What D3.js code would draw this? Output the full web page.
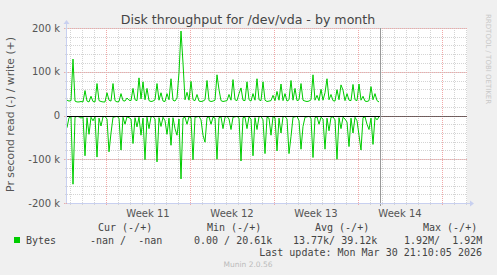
<!DOCTYPE html>
<html>
<head>
<meta charset="utf-8">
<script src="https://cdn.jsdelivr.net/npm/d3@7"></script>
<style>
  body { margin: 0; background: #f0f0f0; }
  text { font-family: "DejaVu Sans", sans-serif; }
  .mono { font-family: "DejaVu Sans Mono", monospace; white-space: pre; }
</style>
</head>
<body>
<div id="chart"></div>
<script>
// samples every 4 hours, values in k (bytes per second)
var startTime = Date.UTC(2026, 2, 5, 18);
var stepHours = 4;

var writeValues = [35,33,34,129,33,31,31,32,31,57,33,31,44,32,31,73,34,32,31,31,
  52,35,33,73,34,31,32,50,34,33,40,35,34,62,36,34,86,38,77,36,
  62,34,32,33,36,73,35,52,33,32,50,36,84,35,33,40,98,193,120,36,
  53,35,78,36,34,48,33,32,33,36,80,34,32,33,35,93,59,34,32,33,
  34,48,35,82,36,34,50,63,35,34,77,36,33,50,35,84,36,34,77,35,
  32,33,34,46,34,55,35,72,34,50,33,36,80,35,62,34,36,73,35,33,
  32,33,36,93,35,46,34,60,35,52,84,36,48,34,33,59,36,70,58,34,
  50,35,34,71,36,34,72,35,44,33,32,34,66,36,50,34,31];

var readValues = [28,5,3,157,4,2,3,6,3,92,5,43,4,12,3,95,6,24,3,2,
  8,83,40,4,3,2,6,79,4,20,3,5,8,64,5,26,4,45,6,101,
  4,30,3,2,8,106,5,25,4,12,43,6,68,5,30,45,8,145,6,4,
  20,3,5,101,4,3,2,10,45,61,5,3,20,4,6,100,5,3,30,4,
  2,8,32,4,3,2,6,104,5,4,30,3,8,92,5,32,3,2,10,87,
  4,6,45,3,5,81,6,40,3,2,8,87,48,4,3,2,12,77,25,4,
  3,2,6,96,5,3,20,4,8,77,6,35,4,3,10,100,5,30,4,8,
  15,71,6,40,4,12,45,79,5,3,20,32,6,66,4,10,3];

var yTicks = [-200, -100, 0, 100, 200];
var legendHeaders = ["Cur (-/+)", "Min (-/+)", "Avg (-/+)", "Max (-/+)"];
var legendValues = ["-nan /  -nan", "0.00 / 20.61k", "13.77k/ 39.12k", "1.92M/  1.92M"];
var seriesName = "Bytes";
var lastUpdate = "Last update: Mon Mar 30 21:10:05 2026";
var nowTime = Date.UTC(2026, 2, 31, 20);

var svgWidth = 497, svgHeight = 275;
var margin = { top: 28, left: 67, right: 30, bottom: 72 };
var width = svgWidth - margin.left - margin.right;
var height = svgHeight - margin.top - margin.bottom;

var svg = d3.select("#chart").append("svg")
  .attr("width", svgWidth)
  .attr("height", svgHeight);

svg.append("rect").attr("width", svgWidth).attr("height", svgHeight).attr("fill", "#f0f0f0");

var chartGroup = svg.append("g")
  .attr("transform", `translate(${margin.left}, ${margin.top})`);

var xStart = new Date(startTime);
var xEnd = new Date(startTime + 33.333 * 864e5);
var xScale = d3.scaleUtc().domain([xStart, xEnd]).range([0, width]);
var yScale = d3.scaleLinear().domain([-200, 200]).range([height, 0]);

chartGroup.append("rect")
  .attr("width", width).attr("height", height).attr("fill", "#ffffff");

// minor grid
var days = d3.utcDay.range(xStart, xEnd);
chartGroup.selectAll(".vminor").data(days).enter().append("line")
  .attr("x1", d => Math.round(xScale(d)) + 0.5).attr("x2", d => Math.round(xScale(d)) + 0.5)
  .attr("y1", 0).attr("y2", height + 2)
  .attr("stroke", "#d4d4d4").attr("stroke-dasharray", "1,1");

var yMinor = d3.range(-200, 201, 20);
chartGroup.selectAll(".hminor").data(yMinor).enter().append("line")
  .attr("x1", -2).attr("x2", width)
  .attr("y1", d => Math.round(yScale(d)) + 0.5).attr("y2", d => Math.round(yScale(d)) + 0.5)
  .attr("stroke", "#d4d4d4").attr("stroke-dasharray", "1,1");

// major grid
var mondays = d3.utcMonday.range(xStart, xEnd);
chartGroup.selectAll(".vmajor").data(mondays).enter().append("line")
  .attr("x1", d => Math.round(xScale(d)) + 0.5).attr("x2", d => Math.round(xScale(d)) + 0.5)
  .attr("y1", 0).attr("y2", height + 3)
  .attr("stroke", "#f0a8a8").attr("stroke-dasharray", "1,1");

chartGroup.selectAll(".hmajor").data(yTicks).enter().append("line")
  .attr("x1", -3).attr("x2", width)
  .attr("y1", d => Math.round(yScale(d)) + 0.5).attr("y2", d => Math.round(yScale(d)) + 0.5)
  .attr("stroke", "#f0a8a8").attr("stroke-dasharray", "1,1");

// y tick labels
chartGroup.selectAll(".ylab").data(yTicks).enter().append("text")
  .attr("x", -7).attr("y", d => yScale(d) + 3.5)
  .attr("text-anchor", "end").attr("font-size", "10px").attr("fill", "#555")
  .text(d => d === 0 ? "0" : d + " k");

// week labels (only those whose mid-week falls inside the plot)
var weekMids = mondays.map(d => d3.utcHour.offset(d, 84)).filter(d => d < xEnd);
chartGroup.selectAll(".xlab").data(weekMids).enter().append("text")
  .attr("x", d => xScale(d))
  .attr("y", height + 14)
  .attr("text-anchor", "middle").attr("font-size", "10px").attr("fill", "#555")
  .text(d => "Week " + d3.utcFormat("%V")(d));

// data lines
var xOf = (d, i) => xScale(new Date(startTime + i * stepHours * 36e5));
var line = d3.line().x((d, i) => xOf(d, i)).y(d => yScale(d));

chartGroup.append("path").datum(writeValues)
  .attr("d", line).attr("fill", "none").attr("stroke", "#00cc00").attr("stroke-width", 1);
chartGroup.append("path").datum(readValues.map(v => -v))
  .attr("d", line).attr("fill", "none").attr("stroke", "#00cc00").attr("stroke-width", 1);

// zero line
var nowX = Math.round(xScale(new Date(nowTime))) + 0.5;
var y0 = Math.round(yScale(0)) + 0.5;
chartGroup.append("line").attr("x1", 0).attr("x2", nowX).attr("y1", y0).attr("y2", y0)
  .attr("stroke", "#000");
chartGroup.append("line").attr("x1", nowX).attr("x2", width).attr("y1", y0).attr("y2", y0)
  .attr("stroke", "#000").attr("stroke-dasharray", "1,1");

// now marker
chartGroup.append("line").attr("x1", nowX).attr("x2", nowX).attr("y1", 0).attr("y2", height + 3)
  .attr("stroke", "#999");

// axes
var axisColor = "#c8d0f0";
chartGroup.append("line").attr("x1", -0.5).attr("x2", -0.5).attr("y1", -5).attr("y2", height)
  .attr("stroke", axisColor);
chartGroup.append("line").attr("x1", 0).attr("x2", width + 4).attr("y1", height + 0.5).attr("y2", height + 0.5)
  .attr("stroke", axisColor);
chartGroup.append("path").attr("d", `M-3.5,-4 L2.5,-4 L-0.5,-8 Z`).attr("fill", axisColor);
chartGroup.append("path").attr("d", `M${width + 3},${height - 2.5} L${width + 3},${height + 3.5} L${width + 7},${height + 0.5} Z`)
  .attr("fill", axisColor);

// title
svg.append("text").attr("x", 248).attr("y", 24)
  .attr("text-anchor", "middle").attr("font-size", "12.6px").attr("fill", "#444")
  .text("Disk throughput for /dev/vda - by month");

// y axis label
svg.append("text")
  .attr("transform", `translate(14, ${margin.top + height / 2 - 1}) rotate(-90)`)
  .attr("text-anchor", "middle").attr("font-size", "10.8px").attr("fill", "#555")
  .text("Pr second read (-) / write (+)");

// side credit
svg.append("text")
  .attr("transform", "translate(486, 14) rotate(90)")
  .attr("font-size", "7px").attr("fill", "#c8c8c8")
  .text("RRDTOOL / TOBI OETIKER");

// legend
var headerX = [98, 207, 315, 423];
var valueX = [90, 194, 293, 404];
svg.selectAll(".lhead").data(legendHeaders).enter().append("text")
  .attr("class", "mono").attr("x", (d, i) => headerX[i]).attr("y", 231)
  .attr("font-size", "10px").attr("fill", "#444").text(d => d);

svg.append("rect").attr("x", 14).attr("y", 237).attr("width", 6).attr("height", 6).attr("fill", "#00cc00");
svg.append("text").attr("class", "mono").attr("x", 26).attr("y", 244)
  .attr("font-size", "10px").attr("fill", "#444").text(seriesName);
svg.selectAll(".lval").data(legendValues).enter().append("text")
  .attr("class", "mono").attr("x", (d, i) => valueX[i]).attr("y", 244)
  .attr("font-size", "10px").attr("fill", "#444").text(d => d);

svg.append("text").attr("class", "mono").attr("x", 482).attr("y", 256)
  .attr("text-anchor", "end").attr("font-size", "10px").attr("fill", "#444").text(lastUpdate);

svg.append("text").attr("x", 248).attr("y", 267)
  .attr("text-anchor", "middle").attr("font-size", "7.5px").attr("fill", "#bbb")
  .text("Munin 2.0.56");
</script>
</body>
</html>
